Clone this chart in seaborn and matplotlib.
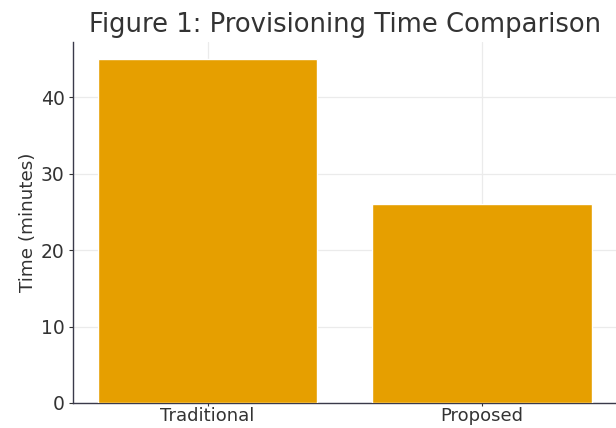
import matplotlib
matplotlib.use("Agg")
import matplotlib.pyplot as plt
import seaborn as sns
import pandas as pd

categories = ["Traditional", "Proposed"]
times = [45, 26]

sns.set_theme(style="whitegrid")
plt.rcParams['font.family'] = ['DejaVu Sans']

df = pd.DataFrame({"Method": categories, "Time": times})

fig = plt.figure(figsize=(6.16, 4.28), dpi=100)
ax = fig.add_axes([73/616, 1-403/428, 543.5/616, (403-42)/428])
sns.barplot(data=df, x="Method", y="Time", color="#E69F00", saturation=1,
            width=0.8, ax=ax, zorder=3)
ax.set_xlim(-0.49, 1.49)
ax.set_ylim(0, 47.25)
ax.set_yticks([0, 10, 20, 30, 40])
ax.grid(True, color="#ebebeb", linewidth=0.9, zorder=0)
ax.set_axisbelow(True)
for s in ["top", "right"]:
    ax.spines[s].set_visible(False)
for s in ["left", "bottom"]:
    ax.spines[s].set_visible(True)
    ax.spines[s].set_color("#3a3a4a")
    ax.spines[s].set_linewidth(1.0)
ax.tick_params(axis="y", labelsize=13.5, colors="#333333", length=3, width=0.8,
               left=True, pad=3)
ax.tick_params(axis="x", labelsize=13, colors="#333333", length=2, width=0.8,
               bottom=True, pad=1)
ax.set_xlabel("")
ax.set_ylabel("Time (minutes)", fontsize=13.2, color="#333333", labelpad=3)
ax.set_title("Figure 1: Provisioning Time Comparison", fontsize=18.6, color="#333333", pad=7)
fig.savefig("out.png", dpi=100)
